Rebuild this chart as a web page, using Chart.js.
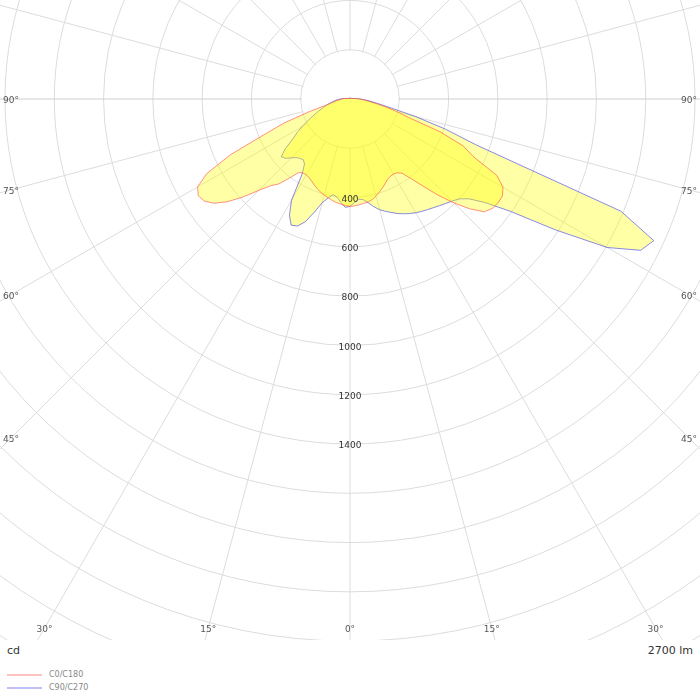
<!DOCTYPE html>
<html>
<head>
<meta charset="utf-8">
<script src="https://cdn.jsdelivr.net/npm/chart.js@4.4.0/dist/chart.umd.min.js"></script>
<style>
  html, body { margin: 0; padding: 0; background: #fff; }
  body { width: 700px; height: 700px; position: relative; overflow: hidden; font-family: "DejaVu Sans", Verdana, sans-serif; }
  #plot { position: absolute; left: 0; top: 0; width: 700px; height: 640px; overflow: hidden; }
  #plot canvas { position: absolute; }
  #unit { position: absolute; left: 7px; top: 644px; font-size: 11px; color: #333; }
  #flux { position: absolute; right: 7px; top: 644px; font-size: 11px; color: #333; }
  #legend { position: absolute; left: 7px; top: 668px; font-size: 8px; color: #888; }
  .item { display: flex; align-items: center; height: 13px; }
  .swatch { width: 35px; height: 0; border-top: 2px solid; margin-right: 7px; opacity: .55; }
</style>
</head>
<body>
<div id="plot"><canvas id="ldc" width="1380" height="1380"></canvas></div>
<div id="unit">cd</div>
<div id="flux">2700 lm</div>
<div id="legend"></div>
<script>
'use strict';

// gamma 0..90 in 2.5 degree steps, candela values
const c0 = [436, 434, 431, 427, 424, 418, 407, 396, 384, 372, 360, 354, 352, 355, 367, 407, 462, 529, 597,
            660, 712, 729, 734, 733, 717, 672, 551, 496, 388, 250, 196, 147, 108, 82, 62, 49, 40];
const c180 = [436, 433, 428, 424, 418, 410, 404, 396, 388, 378, 368, 360, 355, 355, 365, 405, 450, 478, 525,
              588, 648, 695, 722, 730, 714, 655, 535, 375, 285, 180, 110, 82, 66, 54, 45, 36, 30];
const c90 = [436, 420, 408, 412, 428, 448, 465, 478, 490, 503, 514, 524, 533, 541, 548, 556, 565, 575, 586,
             600, 630, 690, 795, 988, 1205, 1330, 1360, 1190, 545, 405, 275, 175, 125, 95, 72, 55, 40];
const c270 = [436, 440, 422, 402, 394, 412, 436, 482, 530, 558, 565, 532, 475, 362, 322, 311, 315, 322, 338,
              356, 364, 330, 284, 255, 225, 196, 170, 148, 129, 113, 98, 86, 75, 66, 57, 48, 40];
// gamma 92.5..180, almost nothing goes upward
const upperHemisphere = [30, 22, 16, 12, 10, 8, 7, 6, 6, 5, 5, 5,
                         4, 4, 4, 4, 4, 4, 4, 4, 4, 4, 4, 4,
                         4, 4, 4, 4, 4, 4, 4, 4, 4, 4, 4, 4];

const planeNames = ['C0/C180', 'C90/C270'];
const tickLabels = [400, 600, 800, 1000, 1200, 1400];
const angleLabels = [0, 15, 30, 45, 60, 75, 90];

const STEP = 2.5;
const CX = 350, CY = 99, R = 690;   // pole position on the page, radius of the scale
const innerRing = 200;

// radar index runs clockwise from the bottom: left half (gamma 0..180), then right half back down
function fullCircle(leftHalf, rightHalf) {
    const left = leftHalf.concat(upperHemisphere);
    const right = rightHalf.slice(1).concat(upperHemisphere.slice(0, -1)).reverse();
    return left.concat(right);
}

const seriesC0 = fullCircle(c180, c0);
const seriesC90 = fullCircle(c270, c90);
const labels = seriesC0.map((v, i) => {
    const g = i * STEP;
    return String(g <= 180 ? g : 360 - g);
});

const canvas = document.getElementById('ldc');
canvas.style.left = (CX - R) + 'px';
canvas.style.top = (CY - R) + 'px';

const polarDecor = {
    id: 'polarDecor',
    beforeDatasetsDraw(chart) {
        const s = chart.scales.r;
        const ctx = chart.ctx;
        ctx.save();
        ctx.fillStyle = '#fff';
        ctx.beginPath();
        ctx.arc(s.xCenter, s.yCenter, s.getDistanceFromCenterForValue(innerRing) - 1, 0, Math.PI * 2);
        ctx.fill();
        ctx.restore();
    },
    afterDatasetsDraw(chart) {
        const s = chart.scales.r;
        const ctx = chart.ctx;
        ctx.save();
        ctx.font = '9px "DejaVu Sans"';
        ctx.fillStyle = '#333';
        ctx.textAlign = 'center';
        ctx.textBaseline = 'middle';
        tickLabels.forEach(v => {
            ctx.fillText(String(v), s.xCenter, s.yCenter + s.getDistanceFromCenterForValue(v) + 2);
        });

        // gamma labels sit where the spokes leave the visible plot
        const xMin = 11 - (CX - R), xMax = 689 - (CX - R), yMax = 628 - (CY - R);
        ctx.fillStyle = '#555';
        angleLabels.forEach(g => {
            const idx = g === 0 ? [0] : [g / STEP, (360 - g) / STEP];
            idx.forEach(i => {
                const p = s.getPointPosition(i, 100);
                const ux = (p.x - s.xCenter) / 100, uy = (p.y - s.yCenter) / 100;
                let t = Infinity;
                if (ux < -1e-6) t = Math.min(t, (s.xCenter - xMin) / -ux);
                if (ux > 1e-6) t = Math.min(t, (xMax - s.xCenter) / ux);
                if (uy > 1e-6) t = Math.min(t, (yMax - s.yCenter) / uy);
                ctx.fillText(g + '°', s.xCenter + ux * t, s.yCenter + uy * t + 2);
            });
        });
        ctx.restore();
    }
};

const chart = new Chart(canvas, {
    type: 'radar',
    data: {
        labels: labels,
        datasets: [{
            label: planeNames[0],
            data: seriesC0,
            borderColor: 'rgba(255,70,70,0.6)',
            backgroundColor: 'rgba(255,255,0,0.35)',
            borderWidth: 1,
            pointRadius: 0,
            fill: true
        }, {
            label: planeNames[1],
            data: seriesC90,
            borderColor: 'rgba(60,60,230,0.6)',
            backgroundColor: 'rgba(255,255,0,0.35)',
            borderWidth: 1,
            pointRadius: 0,
            fill: true
        }]
    },
    options: {
        responsive: false,
        animation: false,
        events: [],
        layout: { padding: 0 },
        plugins: {
            legend: { display: false },
            tooltip: { enabled: false }
        },
        scales: {
            r: {
                min: 0,
                max: 2800,
                startAngle: 180,
                ticks: { display: false, stepSize: 200 },
                pointLabels: { display: false },
                grid: { circular: true, color: '#dcdcdc', lineWidth: 1 },
                angleLines: {
                    lineWidth: 1,
                    color: ctx => {
                        if (ctx.index % 36 === 0 && ctx.index % 72 !== 0) return '#cfcfcf';
                        return ctx.index % 6 === 0 ? '#dcdcdc' : 'rgba(0,0,0,0)';
                    }
                }
            }
        }
    },
    plugins: [polarDecor]
});

const legend = document.getElementById('legend');
chart.data.datasets.forEach(ds => {
    const item = document.createElement('div');
    item.className = 'item';
    item.innerHTML = '<span class="swatch" style="border-color:' + ds.borderColor + '"></span>' + ds.label;
    legend.appendChild(item);
});
</script>
</body>
</html>
